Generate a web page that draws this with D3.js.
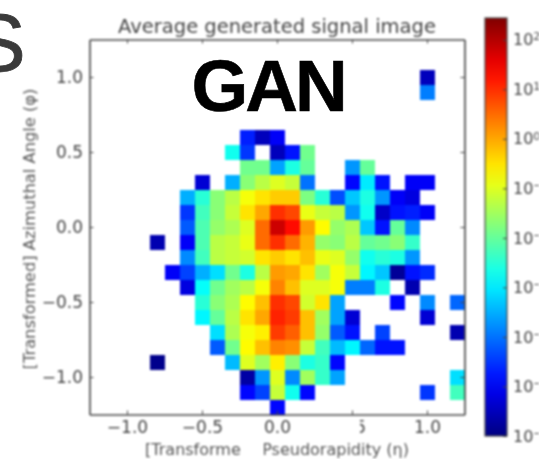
<!DOCTYPE html>
<html>
<head>
<meta charset="utf-8">
<script src="https://cdn.jsdelivr.net/npm/d3@7"></script>
<style>
  html, body { margin: 0; padding: 0; background: #fff; overflow: hidden; }
  #stage { position: relative; width: 539px; height: 459px; overflow: hidden; }
  svg { position: absolute; left: 0; top: 0; }
  #chart { filter: blur(1px); }
  #overlay { filter: blur(0.7px); }
  text { font-family: "DejaVu Sans", sans-serif; }
</style>
</head>
<body>
<div id="stage">
  <svg id="chart" width="539" height="459"></svg>
  <svg id="overlay" width="539" height="459"></svg>
</div>
<script>
// ── Average generated signal image ───────────────────────────────────────────
(function () {
    'use strict';

    const _ = null;

    // log10 of the mean cell value, top row first, left column first
    const row00 = [_,_,_,_,_,_,_,_,_,_,_,_,_,_,_,_,_,_,_,_,_,_,_,_,_];
    const row01 = [_,_,_,_,_,_,_,_,_,_,_,_,_,_,_,_,_,_,_,_,_,_,_,_,_];
    const row02 = [_,_,_,_,_,_,_,_,_,_,_,_,_,_,_,_,_,_,_,_,_,_,-5.5,_,_];
    const row03 = [_,_,_,_,_,_,_,_,_,_,_,_,_,_,_,_,_,_,_,_,_,_,-3.9,_,_];
    const row04 = [_,_,_,_,_,_,_,_,_,_,_,_,_,_,_,_,_,_,_,_,_,_,_,_,_];
    const row05 = [_,_,_,_,_,_,_,_,_,_,_,_,_,_,_,_,_,_,_,_,_,_,_,_,_];
    const row06 = [_,_,_,_,_,_,_,_,_,_,-4.7,-5.5,-5,_,_,_,_,_,_,_,_,_,_,_,_];
    const row07 = [_,_,_,_,_,_,_,_,_,-2.7,-4.5,_,-5.5,-4.8,-1.9,_,_,_,_,_,_,_,_,_,_];
    const row08 = [_,_,_,_,_,_,_,_,_,_,-1.9,-1.9,-3.6,-2.6,-2,_,_,-3.7,-2,_,_,_,_,_,_];
    const row09 = [_,_,_,_,_,_,_,-5.3,_,-3.5,-1.7,-1.3,-1,-1.2,-4,_,_,-4.9,-3,-4.8,_,-5,-5,_,_];
    const row10 = [_,_,_,_,_,_,-3.5,-2.5,-1.7,-1.3,-0.8,-0.5,-0.3,-0.3,-1.8,-2.5,-4.3,-3.3,-2.6,-3.7,-5,-5.2,_,_,_];
    const row11 = [_,_,_,_,_,_,-4.5,-2.3,-1.7,-1.2,-0.5,0,1,0.8,-0.9,-1.2,-1.3,-3.7,-2.7,-5.4,-4.8,-4.7,-5,_,_];
    const row12 = [_,_,_,_,_,_,-4.2,-2.2,-1.6,-1.4,-1,0.5,1.8,1.3,0.1,-0.7,-1.6,-1.4,-3.3,-4.8,-2,-3.8,_,_,_];
    const row13 = [_,_,_,_,-5.6,_,-5,-2.2,-1.3,-1.2,-0.9,0.5,1,0.5,-0.1,-1.6,-1.7,-1.3,-2,-1.9,-1.7,-2.4,_,_,_];
    const row14 = [_,_,_,_,_,_,-3.8,-2.3,-1.3,-1.2,-1.1,-0.5,-0.3,-0.5,-0.2,-0.9,-1,-1.6,-2.7,-2.5,-2.6,-3.7,_,_,_];
    const row15 = [_,_,_,_,_,-5,-4.4,-3.5,-3.1,-1.9,-2.6,-1.3,0.1,0,-0.5,-1.5,-0.8,-1.2,-2.9,-3.3,-5.8,-4.8,-4.6,_,_];
    const row16 = [_,_,_,_,_,_,-5.2,-2.8,-1.9,-1.5,-1.3,-0.8,0.3,-0.2,-1,-1,-0.8,-3.9,-3.9,-2.6,_,-5.6,_,_,_];
    const row17 = [_,_,_,_,_,_,_,-2.5,-1.7,-1.4,-0.7,-0.2,1,0.8,-1.1,-0.5,-3.6,_,_,_,-4.9,_,-3.8,_,-4.1];
    const row18 = [_,_,_,_,_,_,_,-2.9,-2,-1.3,-0.5,0,1.1,0.9,-0.2,-1.5,-3.6,-5.3,_,_,_,_,-5.3,_,_];
    const row19 = [_,_,_,_,_,_,_,_,-3.1,-1.4,-0.8,-0.6,0.9,0.6,-0.2,-1.6,-4.2,-4.8,_,-4.4,_,_,_,_,-5.6];
    const row20 = [_,_,_,_,_,_,_,_,-4.2,-1.9,-0.7,-0.2,0.3,0.2,-1.2,-2.3,-3.4,-2.9,-4.1,-4.8,-4.8,_,_,_,_];
    const row21 = [_,_,_,_,-5.9,_,_,_,_,-3.4,-1,-1.5,-0.6,-1.7,-2.6,-2.4,-4.9,_,_,_,_,_,_,_,_];
    const row22 = [_,_,_,_,_,_,_,_,_,_,-5.7,-3.7,-1,-3.8,-1.5,-2.4,-3.6,_,_,_,_,_,_,_,-3.1];
    const row23 = [_,_,_,_,_,_,_,_,_,_,-4.9,-4.4,-1.2,-2.7,-4.9,_,_,_,_,_,_,_,-4.5,_,-2.3];
    const row24 = [_,_,_,_,_,_,_,_,_,_,_,_,-4.9,_,_,_,_,_,_,_,_,_,_,_,_];
    const rows = [row00, row01, row02, row03, row04, row05, row06, row07, row08, row09, row10, row11, row12,
                  row13, row14, row15, row16, row17, row18, row19, row20, row21, row22, row23, row24];

    const axisTicks = [-1.0, -0.5, 0.0, 0.5, 1.0];
    const barExponents = [2, 1, 0, -1, -2, -3, -4, -5, -6];
    const barMax = Math.pow(10, 2.44), barMin = 1e-6;

    const titleText = 'Average generated signal image';
    const xLabelText = '[Transformed] Pseudorapidity (\u03b7)';
    const yLabelText = '[Transformed] Azimuthal Angle (\u03c6)';

    const INK = '#444';
    const FRAME = { left: 89.5, right: 464.5, top: 39.5, bottom: 414.5 };
    const BAR = { left: 485, right: 507, top: 18, bottom: 436 };
    const CELL = 0.1;

    function clamp01(v) { return Math.max(0, Math.min(1, v)); }
    function jet(t) {
        const r = clamp01(1.5 - Math.abs(4 * t - 3));
        const g = clamp01(1.5 - Math.abs(4 * t - 2));
        const b = clamp01(1.5 - Math.abs(4 * t - 1));
        return d3.rgb(r * 255, g * 255, b * 255).formatHex();
    }

    const x = d3.scaleLinear().domain([-1.25, 1.25]).range([FRAME.left, FRAME.right]);
    const y = d3.scaleLinear().domain([-1.25, 1.25]).range([FRAME.bottom, FRAME.top]);
    const color = d3.scaleSequentialLog(jet).domain([barMin, barMax]);
    const barY = d3.scaleLog().domain([barMin, barMax]).range([BAR.bottom, BAR.top]);

    const svg = d3.select('#chart');

    // Cells
    const cells = [];
    rows.forEach(function (row, j) {
        row.forEach(function (v, i) {
            if (v !== null) cells.push({ i: i, j: j, value: Math.pow(10, v) });
        });
    });
    svg.append('g').selectAll('rect')
        .data(cells)
        .enter()
        .append('rect')
        .attr('x', function (d) { return x(-1.25 + d.i * CELL); })
        .attr('y', function (d) { return y(1.25 - d.j * CELL); })
        .attr('width', x(CELL) - x(0))
        .attr('height', y(0) - y(CELL))
        .attr('fill', function (d) { return color(d.value); })
        .attr('shape-rendering', 'crispEdges');

    // Axes on all four sides, ticks pointing inward
    function styleAxis(g) {
        g.selectAll('.domain').attr('stroke', INK).attr('stroke-width', 1.6);
        g.selectAll('.tick line').attr('stroke', INK).attr('stroke-width', 1);
        g.selectAll('text').attr('fill', INK).style('font-size', '17px').style('font-family', '"DejaVu Sans", sans-serif');
    }
    const fmt = d3.format('.1f');
    svg.append('g').attr('transform', 'translate(0,' + FRAME.bottom + ')')
        .call(d3.axisBottom(x).tickValues(axisTicks).tickFormat(fmt).tickSizeInner(-4).tickSizeOuter(0).tickPadding(6))
        .call(styleAxis);
    svg.append('g').attr('transform', 'translate(0,' + FRAME.top + ')')
        .call(d3.axisTop(x).tickValues(axisTicks).tickFormat('').tickSizeInner(-4).tickSizeOuter(0))
        .call(styleAxis);
    svg.append('g').attr('transform', 'translate(' + FRAME.left + ',0)')
        .call(d3.axisLeft(y).tickValues(axisTicks).tickFormat(fmt).tickSizeInner(-4).tickSizeOuter(0).tickPadding(6.5))
        .call(styleAxis);
    svg.append('g').attr('transform', 'translate(' + FRAME.right + ',0)')
        .call(d3.axisRight(y).tickValues(axisTicks).tickFormat('').tickSizeInner(-4).tickSizeOuter(0))
        .call(styleAxis);

    // Titles
    svg.append('text').attr('x', 277).attr('y', 33).attr('text-anchor', 'middle')
        .attr('fill', INK).style('font-size', '19.5px').text(titleText);
    svg.append('text').attr('x', 277).attr('y', 455).attr('text-anchor', 'middle')
        .attr('fill', '#555').style('font-size', '16px').text(xLabelText);
    svg.append('text').attr('transform', 'translate(35,229) rotate(-90)').attr('text-anchor', 'middle')
        .attr('fill', '#555').style('font-size', '16.3px').text(yLabelText);

    // White patches lying over the lower tick label and the x label
    svg.append('rect').attr('x', 241).attr('y', 441).attr('width', 23).attr('height', 18).attr('fill', '#fff');
    svg.append('rect').attr('x', 330).attr('y', 420).attr('width', 30).attr('height', 20).attr('fill', '#fff');

    // Colour bar
    const defs = svg.append('defs');
    const grad = defs.append('linearGradient').attr('id', 'bar-grad')
        .attr('x1', 0).attr('y1', 1).attr('x2', 0).attr('y2', 0);
    d3.range(0, 1.0001, 0.05).forEach(function (t) {
        grad.append('stop').attr('offset', t).attr('stop-color', jet(t));
    });
    svg.append('rect')
        .attr('x', BAR.left).attr('y', BAR.top)
        .attr('width', BAR.right - BAR.left).attr('height', BAR.bottom - BAR.top)
        .attr('fill', 'url(#bar-grad)')
        .attr('stroke', INK).attr('stroke-width', 1.2);

    const barAxis = svg.append('g').attr('transform', 'translate(' + BAR.right + ',0)')
        .call(d3.axisRight(barY)
            .tickValues(barExponents.map(function (e) { return Math.pow(10, e); }))
            .tickFormat('').tickSizeInner(-4).tickSizeOuter(0).tickPadding(6));
    barAxis.select('.domain').remove();
    barAxis.selectAll('.tick line').attr('stroke', INK).attr('stroke-width', 1);
    barAxis.selectAll('.tick text').each(function (d) {
        const e = Math.round(Math.log10(d));
        const label = d3.select(this).attr('fill', INK).style('font-size', '16px');
        label.append('tspan').text('10');
        label.append('tspan').attr('dy', '-0.45em').style('font-size', '11px')
            .text(String(e).replace('-', '\u2212'));
    });

    // Big lettering pasted over the figure
    const overlay = d3.select('#overlay');
    overlay.append('text').attr('x', -29).attr('y', 71)
        .attr('fill', '#3a3a3a').attr('stroke', '#3a3a3a').attr('stroke-width', 0.8)
        .style('font-family', '"Liberation Sans", sans-serif').style('font-size', '82px')
        .text('S');
    overlay.append('text').attr('x', 268).attr('y', 111).attr('text-anchor', 'middle')
        .attr('fill', '#000').attr('stroke', '#000').attr('stroke-width', 0.6)
        .style('letter-spacing', '-3px')
        .style('font-family', '"Liberation Sans", sans-serif').style('font-weight', 'bold').style('font-size', '73px')
        .text('GAN');
})();
</script>
</body>
</html>
